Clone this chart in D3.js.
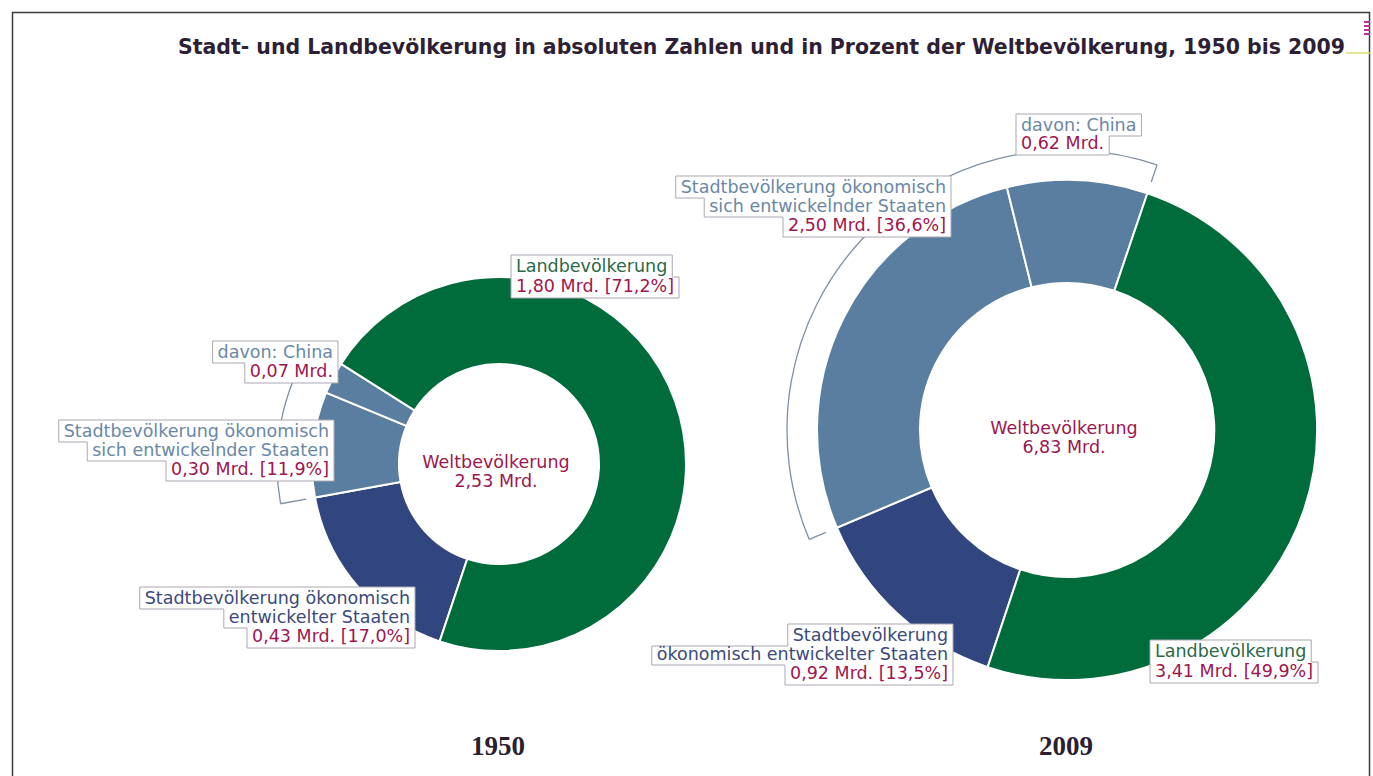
<!DOCTYPE html>
<html lang="de">
<head>
<meta charset="UTF-8">
<title>Stadt- und Landbevölkerung 1950 bis 2009</title>
<script src="https://d3js.org/d3.v7.min.js"></script>
<style>
  body { margin: 0; background: #fff; }
  svg { display: block; }
  .lbl { font-family: 'DejaVu Sans', Verdana, sans-serif; font-size: 17.5px; }
</style>
</head>
<body>
<div id="chart"></div>
<script>
// --- data (Mrd. Menschen) ---
const years = ["1950", "2009"];
const worldTotal = [2.53, 6.83];
const landPop = [1.80, 3.41];
const developedUrban = [0.43, 0.92];
const developingUrban = [0.30, 2.50];   // inkl. China
const chinaUrban = [0.07, 0.62];
const landPct = [71.2, 49.9];
const developedPct = [17.0, 13.5];
const developingPct = [11.9, 36.6];

const title = "Stadt- und Landbevölkerung in absoluten Zahlen und in Prozent der Weltbevölkerung, 1950 bis 2009";

const colors = { land: "#006b3b", developed: "#31467e", developing: "#5a7e9f", china: "#5a7e9f" };
const textCol = { land: "#2b6a47", value: "#a0154f", developed: "#3b4a7c", developing: "#6a88a6", center: "#9c1650" };

// layout per donut
const donuts = [
  { cx: 499, cy: 464, r0: 100, r1: 187, br: 222, tick: 196 },
  { cx: 1067, cy: 430, r0: 147, r1: 250, br: 280, tick: 262 }
];
// Grenze Land / Stadt entwickelt liegt bei beiden Kreisen ungefähr gleich
const anchor = 198.5 * Math.PI / 180;

const W = 1373, H = 776;
const de = d3.formatLocale({ decimal: ",", thousands: ".", grouping: [3], currency: ["", " €"] });
const f2 = de.format(".2f"), f1 = de.format(".1f");

const svg = d3.select("#chart").append("svg").attr("width", W).attr("height", H);

// frame
svg.append("rect").attr("x", 12.5).attr("y", 12.5).attr("width", 1357).attr("height", 800)
  .attr("fill", "none").attr("stroke", "#3c3c3c").attr("stroke-width", 1.5);

// title
svg.append("text").attr("x", 178).attr("y", 54)
  .attr("textLength", 1167).attr("lengthAdjust", "spacingAndGlyphs")
  .style("font-family", "'Liberation Sans Narrow', 'DejaVu Sans Condensed', sans-serif")
  .style("font-weight", "bold").style("font-size", "22px").attr("fill", "#2d1f35")
  .text(title);
// little marks at the right of the title
[22, 26, 30, 34].forEach(y => svg.append("line").attr("x1", 1364).attr("x2", 1370).attr("y1", y).attr("y2", y)
  .attr("stroke", "#c0309a").attr("stroke-width", 2));
svg.append("line").attr("x1", 1346).attr("x2", 1371).attr("y1", 53).attr("y2", 53)
  .attr("stroke", "#dede70").attr("stroke-width", 1.5);

const pie = d3.pie().sort(null).value(d => d.v).startAngle(anchor).endAngle(anchor + 2 * Math.PI);

function polar(cx, cy, r, a) { return [cx + r * Math.sin(a), cy - r * Math.cos(a)]; }

// label box with stepped outline
function labelBox(x, align, baselines, lines) {
  const g = svg.append("g");
  const box = g.append("path").attr("fill", "#fff").attr("stroke", "#aba7b2").attr("stroke-width", 1);
  const widths = [];
  lines.forEach((ln, i) => {
    const t = g.append("text").attr("class", "lbl").attr("x", x).attr("y", baselines[i])
      .attr("text-anchor", align === "right" ? "end" : "start").attr("fill", ln.c).text(ln.t);
    widths.push(t.node().getComputedTextLength());
  });
  const pad = 5, n = lines.length;
  const tops = baselines.map((b, i) => i === 0 ? b - 17 : baselines[i - 1] + 5);
  const bots = baselines.map((b, i) => i === n - 1 ? b + 6 : b + 5);
  const s = align === "right" ? -1 : 1;
  const edge = x - s * pad;
  const far = widths.map(w => x + s * (w + pad));
  let p = `M${edge},${tops[0]} L${edge},${bots[n - 1]}`;
  for (let i = n - 1; i >= 0; i--) {
    p += ` L${far[i]},${bots[i]} L${far[i]},${tops[i]}`;
  }
  p += " Z";
  box.attr("d", p);
}

donuts.forEach((L, k) => {
  const g = svg.append("g");
  const parts = [
    { key: "developed", v: developedUrban[k] },
    { key: "developing", v: developingUrban[k] - chinaUrban[k] },
    { key: "china", v: chinaUrban[k] },
    { key: "land", v: landPop[k] }
  ];
  const arcs = pie(parts);
  const arc = d3.arc().innerRadius(L.r0).outerRadius(L.r1);
  g.selectAll("path.seg").data(arcs).join("path").attr("class", "seg")
    .attr("transform", `translate(${L.cx},${L.cy})`)
    .attr("d", arc).attr("fill", d => colors[d.data.key])
    .attr("stroke", "#fff").attr("stroke-width", 2);

  // bracket around the developing group (incl. China)
  const a0 = arcs[1].startAngle, a1 = arcs[2].endAngle;
  const br = d3.arc().innerRadius(L.br).outerRadius(L.br).startAngle(a0).endAngle(a1);
  const p0 = polar(L.cx, L.cy, L.tick, a0), p0b = polar(L.cx, L.cy, L.br, a0);
  const p1 = polar(L.cx, L.cy, L.tick, a1), p1b = polar(L.cx, L.cy, L.br, a1);
  g.append("path").attr("transform", `translate(${L.cx},${L.cy})`).attr("d", br)
    .attr("fill", "none").attr("stroke", "#7f8fa2").attr("stroke-width", 1.3);
  g.append("path").attr("d", `M${p0[0]},${p0[1]} L${p0b[0]},${p0b[1]} M${p1[0]},${p1[1]} L${p1b[0]},${p1b[1]}`)
    .attr("fill", "none").attr("stroke", "#7f8fa2").attr("stroke-width", 1.3);

  // center text
  g.append("text").attr("class", "lbl").attr("x", L.cx - 3).attr("y", L.cy + 4).attr("text-anchor", "middle")
    .attr("fill", textCol.center).text("Weltbevölkerung");
  g.append("text").attr("class", "lbl").attr("x", L.cx - 3).attr("y", L.cy + 23).attr("text-anchor", "middle")
    .attr("fill", textCol.center).text(f2(worldTotal[k]) + " Mrd.");

  // year
  svg.append("text").attr("x", L.cx - 1).attr("y", 755).attr("text-anchor", "middle")
    .style("font-family", "'Liberation Serif', 'DejaVu Serif', serif").style("font-weight", "bold")
    .style("font-size", "27px").attr("fill", "#2a2030").text(years[k]);
});

// labels 1950
labelBox(516, "left", [272, 292], [
  { t: "Landbevölkerung", c: textCol.land },
  { t: `${f2(landPop[0])} Mrd. [${f1(landPct[0])}%]`, c: textCol.value }]);
labelBox(333, "right", [358, 377], [
  { t: "davon: China", c: textCol.developing },
  { t: `${f2(chinaUrban[0])} Mrd.`, c: textCol.value }]);
labelBox(329, "right", [437, 456, 475], [
  { t: "Stadtbevölkerung ökonomisch", c: textCol.developing },
  { t: "sich entwickelnder Staaten", c: textCol.developing },
  { t: `${f2(developingUrban[0])} Mrd. [${f1(developingPct[0])}%]`, c: textCol.value }]);
labelBox(410, "right", [604, 623, 642], [
  { t: "Stadtbevölkerung ökonomisch", c: textCol.developed },
  { t: "entwickelter Staaten", c: textCol.developed },
  { t: `${f2(developedUrban[0])} Mrd. [${f1(developedPct[0])}%]`, c: textCol.value }]);

// labels 2009
labelBox(1021, "left", [131, 149], [
  { t: "davon: China", c: textCol.developing },
  { t: `${f2(chinaUrban[1])} Mrd.`, c: textCol.value }]);
labelBox(946, "right", [193, 212, 231], [
  { t: "Stadtbevölkerung ökonomisch", c: textCol.developing },
  { t: "sich entwickelnder Staaten", c: textCol.developing },
  { t: `${f2(developingUrban[1])} Mrd. [${f1(developingPct[1])}%]`, c: textCol.value }]);
labelBox(948, "right", [641, 660, 679], [
  { t: "Stadtbevölkerung", c: textCol.developed },
  { t: "ökonomisch entwickelter Staaten", c: textCol.developed },
  { t: `${f2(developedUrban[1])} Mrd. [${f1(developedPct[1])}%]`, c: textCol.value }]);
labelBox(1155, "left", [657, 677], [
  { t: "Landbevölkerung", c: textCol.land },
  { t: `${f2(landPop[1])} Mrd. [${f1(landPct[1])}%]`, c: textCol.value }]);
</script>
</body>
</html>
